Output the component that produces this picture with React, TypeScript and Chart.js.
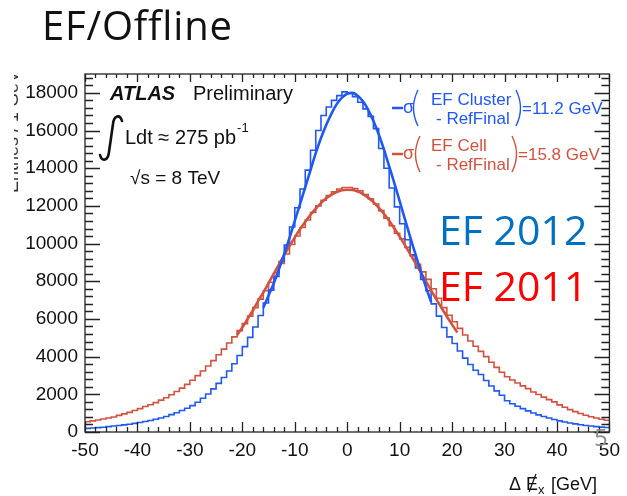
import React, { useEffect, useRef } from "react";
import { Chart, registerables } from "chart.js";

Chart.register(...registerables);

// Histogram binning (1 GeV bins from -50 to 50)
const BIN_LOW = -50;
const BIN_WIDTH = 1;

// EF Cluster - RefFinal (blue histogram), counts per bin
const blueCounts = [
  190, 210, 230, 255, 285, 315, 345, 380, 415, 460,
  505, 555, 610, 675, 745, 820, 920, 1020, 1140, 1260,
  1400, 1580, 1790, 2020, 2290, 2580, 2890, 3240, 3620, 4060,
  4530, 5020, 5570, 6180, 6850, 7530, 8250, 9050, 9920, 10880,
  11900, 12900, 13900, 14950, 16000, 16800, 17250, 17600, 17850, 18050,
  18000, 17800, 17500, 17150, 16750, 16100, 15050, 14000, 12950, 11950,
  11050, 10200, 9400, 8700, 8100, 7500, 6800, 6150, 5550, 5050,
  4700, 4300, 3920, 3580, 3280, 3050, 2730, 2440, 2180, 1950,
  1660, 1500, 1370, 1240, 1120, 1010, 910, 820, 740, 660,
  590, 530, 480, 430, 385, 345, 315, 285, 260, 240,
];

// EF Cell - RefFinal (red histogram), counts per bin
const redCounts = [
  545, 590, 640, 690, 740, 800, 880, 960, 1040, 1140,
  1240, 1350, 1450, 1560, 1690, 1820, 1980, 2150, 2330, 2530,
  2750, 2990, 3240, 3500, 3790, 4100, 4400, 4720, 5050, 5380,
  5750, 6150, 6600, 7050, 7500, 7950, 8450, 8950, 9450, 9950,
  10400, 10850, 11250, 11650, 12000, 12300, 12550, 12750, 12900, 12980,
  12980, 12920, 12800, 12600, 12380, 12100, 11750, 11350, 10950, 10550,
  10250, 9800, 9350, 8900, 8500, 8100, 7600, 7100, 6600, 6200,
  5850, 5500, 5150, 4830, 4550, 4280, 4000, 3700, 3430, 3170,
  2930, 2760, 2600, 2450, 2300, 2120, 1990, 1850, 1720, 1600,
  1440, 1310, 1190, 1080, 980, 890, 810, 740, 680, 620,
];

// Gaussian fit curves
const blueFitX = [-16, -15, -14, -13, -12, -11, -10, -9, -8, -7, -6, -5, -4, -3, -2, -1, 0, 1, 2, 3, 4, 5, 6, 7, 8, 9, 10, 11, 12, 13, 14, 15, 16];
const blueFitY = [6600, 7250, 7900, 8650, 9450, 10300, 11200, 12100, 13000, 13900, 14800, 15600, 16300, 16900, 17400, 17750, 17950, 18000, 17850, 17550, 17100, 16500, 15800, 15000, 14100, 13200, 12250, 11300, 10350, 9450, 8550, 7700, 6900];

const redFitX = [-21, -20, -19, -18, -17, -16, -15, -14, -13, -12, -11, -10, -9, -8, -7, -6, -5, -4, -3, -2, -1, 0, 1, 2, 3, 4, 5, 6, 7, 8, 9, 10, 11, 12, 13, 14, 15, 16, 17, 18, 19, 20, 21];
const redFitY = [5150, 5550, 6000, 6450, 6950, 7400, 7900, 8400, 8900, 9400, 9870, 10330, 10760, 11160, 11530, 11860, 12150, 12400, 12600, 12740, 12830, 12860, 12840, 12760, 12630, 12440, 12200, 11910, 11580, 11210, 10800, 10370, 9920, 9450, 8970, 8480, 8000, 7520, 7040, 6580, 6130, 5700, 5280];

// Axis ticks
const xTickLabels = [-50, -40, -30, -20, -10, 0, 10, 20, 30, 40, 50];
const yTickLabels = [0, 2000, 4000, 6000, 8000, 10000, 12000, 14000, 16000, 18000];
const X_MIN = -50, X_MAX = 50, X_MINOR = 2;
const Y_MIN = 0, Y_MAX = 19000, Y_MINOR = 400;

const BLUE = "#2158f0";
const RED = "#d1533f";

function histPoints(counts: number[]) {
  const pts = counts.map((c, i) => ({ x: BIN_LOW + i * BIN_WIDTH, y: c }));
  pts.push({ x: BIN_LOW + counts.length * BIN_WIDTH, y: counts[counts.length - 1] });
  return pts;
}

const SANS = '"Liberation Sans", Arial, Helvetica, sans-serif';

const framePlugin = {
  id: "rootFrame",
  afterDatasetsDraw(chart: any) {
    const { ctx, chartArea: a, scales } = chart;
    const xs = scales.x, ys = scales.y;
    ctx.save();
    ctx.strokeStyle = "#222";
    ctx.lineWidth = 1.3;
    ctx.strokeRect(a.left, a.top, a.right - a.left, a.bottom - a.top);
    ctx.beginPath();
    for (let v = X_MIN; v <= X_MAX + 1e-9; v += X_MINOR) {
      const px = Math.round(xs.getPixelForValue(v)) + 0.5;
      const major = xTickLabels.includes(v);
      const len = major ? 10 : 5;
      ctx.moveTo(px, a.bottom);
      ctx.lineTo(px, a.bottom - len);
      ctx.moveTo(px, a.top);
      ctx.lineTo(px, a.top + len * 0.8);
    }
    for (let v = Y_MIN; v <= Y_MAX + 1e-9; v += Y_MINOR) {
      const py = Math.round(ys.getPixelForValue(v)) + 0.5;
      const major = yTickLabels.includes(v);
      const len = major ? 15 : 8;
      ctx.moveTo(a.left, py);
      ctx.lineTo(a.left + len, py);
      ctx.moveTo(a.right, py);
      ctx.lineTo(a.right - len, py);
    }
    ctx.stroke();
    ctx.restore();
  },
  afterDraw(chart: any) {
    const { ctx } = chart;
    ctx.save();
    ctx.textBaseline = "alphabetic";
    ctx.textAlign = "left";

    // Slide title
    ctx.fillStyle = "#111";
    ctx.font = '40px "Open Sans", sans-serif';
    (ctx as any).letterSpacing = "0.8px";
    ctx.fillText("EF/Offline", 42, 40);
    (ctx as any).letterSpacing = "0px";

    // clipped y-axis title fragment
    ctx.save();
    ctx.beginPath();
    ctx.rect(14, 70, 5, 130);
    ctx.clip();
    ctx.translate(18, 132);
    ctx.rotate(-Math.PI / 2);
    ctx.textAlign = "center";
    ctx.fillStyle = "#333";
    ctx.font = `18px ${SANS}`;
    ctx.fillText("Entries / 1 GeV", 0, 0);
    ctx.restore();

    // ATLAS label
    ctx.fillStyle = "#111";
    ctx.font = `italic bold 20px ${SANS}`;
    ctx.fillText("ATLAS", 110, 100);
    ctx.font = `20px ${SANS}`;
    ctx.fillText("Preliminary", 193, 100);

    // integral sign
    ctx.strokeStyle = "#111";
    ctx.lineWidth = 2.6;
    ctx.lineCap = "round";
    ctx.beginPath();
    ctx.moveTo(122, 121);
    ctx.bezierCurveTo(120, 114, 114, 115, 113, 124);
    ctx.lineTo(109, 152);
    ctx.bezierCurveTo(108, 161, 102, 162, 100, 155);
    ctx.stroke();
    ctx.lineCap = "butt";

    ctx.font = `20px ${SANS}`;
    const lumi = "Ldt ≈ 275 pb";
    ctx.fillText(lumi, 125, 144);
    const lw = ctx.measureText(lumi).width;
    ctx.font = `13px ${SANS}`;
    ctx.fillText("-1", 125 + lw + 1, 132);
    ctx.font = `19px ${SANS}`;
    ctx.fillText("√s = 8 TeV", 130, 184);

    // Legend
    const legend = (color: string, y0: number, line1: string, line2: string, val: string, pl: number, pr: number) => {
      ctx.strokeStyle = color;
      ctx.fillStyle = color;
      ctx.lineWidth = 2.5;
      ctx.beginPath();
      ctx.moveTo(392, y0);
      ctx.lineTo(403, y0);
      ctx.stroke();
      ctx.font = `18px ${SANS}`;
      ctx.fillText("σ", 403, y0 + 5);
      ctx.lineWidth = 1.4;
      ctx.beginPath();
      ctx.moveTo(pl + 5, y0 - 18);
      ctx.quadraticCurveTo(pl - 4, y0, pl + 5, y0 + 18);
      ctx.stroke();
      ctx.beginPath();
      ctx.moveTo(pr, y0 - 18);
      ctx.quadraticCurveTo(pr + 9, y0, pr, y0 + 18);
      ctx.stroke();
      ctx.font = `17px ${SANS}`;
      ctx.fillText(line1, 431, y0 - 3);
      ctx.fillText(line2, 436, y0 + 16);
      ctx.fillText(val, pr + 6, y0 + 6);
    };
    legend(BLUE, 108, "EF Cluster", "- RefFinal", "=11.2 GeV", 413, 516);
    legend(RED, 154, "EF Cell", "- RefFinal", "=15.8 GeV", 415, 512);

    // big slide annotations
    ctx.font = '41px "Open Sans", sans-serif';
    ctx.fillStyle = "#0070C0";
    ctx.fillText("EF 2012", 439, 245);
    ctx.fillStyle = "#FF0000";
    ctx.fillText("EF 2011", 439, 301);

    // page number
    ctx.fillStyle = "#8c8c8c";
    ctx.font = '24px "Open Sans", sans-serif';
    ctx.fillText("5", 594, 446);

    // x axis title: Δ E̸x [GeV]
    ctx.fillStyle = "#111";
    ctx.strokeStyle = "#111";
    ctx.font = `18px ${SANS}`;
    ctx.fillText("Δ", 509, 490);
    ctx.fillText("E", 526, 490);
    ctx.lineWidth = 1.2;
    ctx.beginPath();
    ctx.moveTo(529, 492);
    ctx.lineTo(536, 474);
    ctx.stroke();
    ctx.font = `13px ${SANS}`;
    ctx.fillText("x", 538, 494);
    ctx.font = `18px ${SANS}`;
    ctx.fillText("[GeV]", 551, 490);
    ctx.restore();
  },
};

export default function App() {
  const ref = useRef<HTMLCanvasElement | null>(null);
  useEffect(() => {
    if (!ref.current) return;
    const chart = new Chart(ref.current, {
      type: "line",
      data: {
        datasets: [
          {
            label: "blue fit",
            data: blueFitX.map((x, i) => ({ x, y: blueFitY[i] })),
            borderColor: BLUE,
            borderWidth: 2.6,
            pointRadius: 0,
            cubicInterpolationMode: "monotone",
            fill: false,
            order: 0,
          },
          {
            label: "red fit",
            data: redFitX.map((x, i) => ({ x, y: redFitY[i] })),
            borderColor: RED,
            borderWidth: 2.6,
            pointRadius: 0,
            cubicInterpolationMode: "monotone",
            fill: false,
            order: 0,
          },
          {
            label: "EF Cluster - RefFinal",
            data: histPoints(blueCounts),
            borderColor: BLUE,
            borderWidth: 1.6,
            pointRadius: 0,
            stepped: "before",
            fill: false,
            order: 1,
          },
          {
            label: "EF Cell - RefFinal",
            data: histPoints(redCounts),
            borderColor: RED,
            borderWidth: 1.6,
            pointRadius: 0,
            stepped: "before",
            fill: false,
            order: 1,
          },
        ],
      },
      options: {
        animation: false,
        responsive: false,
        events: [],
        layout: { padding: { left: 0, right: 14, top: 74, bottom: 0 } },
        plugins: { legend: { display: false }, tooltip: { enabled: false }, title: { display: false } },
        scales: {
          x: {
            type: "linear",
            min: X_MIN,
            max: X_MAX,
            afterFit: (s: any) => { s.height = 64; },
            afterBuildTicks: (s: any) => { s.ticks = xTickLabels.map((v) => ({ value: v })); },
            grid: { display: false, drawTicks: false },
            border: { display: false },
            ticks: {
              padding: 7,
              color: "#111",
              font: { family: SANS, size: 19 },
              callback: (v: any) => String(v),
              maxRotation: 0,
              autoSkip: false,
            },
          },
          y: {
            type: "linear",
            min: Y_MIN,
            max: Y_MAX,
            afterFit: (s: any) => { s.width = 85; },
            afterBuildTicks: (s: any) => { s.ticks = yTickLabels.map((v) => ({ value: v })); },
            grid: { display: false, drawTicks: false },
            border: { display: false },
            ticks: {
              padding: 7,
              color: "#111",
              font: { family: SANS, size: 19 },
              callback: (v: any) => String(v),
              autoSkip: false,
            },
          },
        },
      },
      plugins: [framePlugin],
    } as any);
    return () => chart.destroy();
  }, []);
  return (
    <div style={{ position: "fixed", left: 0, top: 0, width: 627, height: 496, background: "#fff" }}>
      <canvas ref={ref} width={627} height={496} style={{ display: "block", width: 627, height: 496 }} />
    </div>
  );
}
